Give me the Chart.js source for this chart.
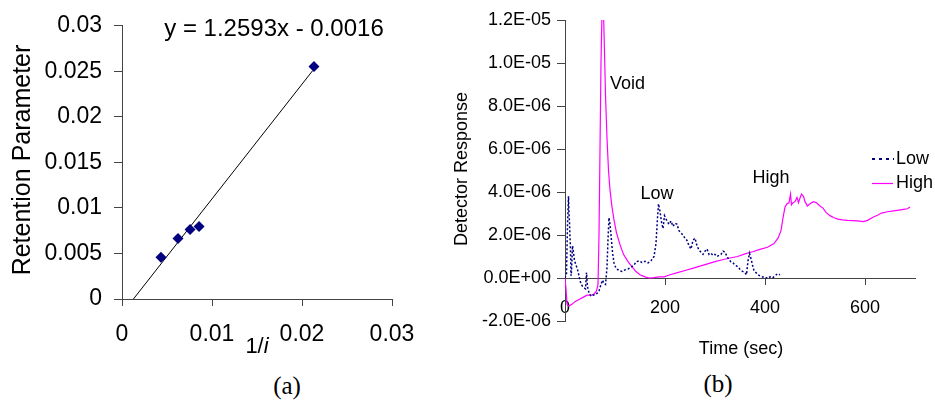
<!DOCTYPE html>
<html>
<head>
<meta charset="utf-8">
<script src="https://cdn.jsdelivr.net/npm/chart.js@4.4.1/dist/chart.umd.min.js"></script>
<style>
  body { margin: 0; background: #fff; }
  #wrap { position: relative; width: 935px; height: 400px; overflow: hidden; }
  #wrap canvas { position: absolute; top: 0; }
  .cap { position: absolute; font-family: "Liberation Serif", "Times New Roman", serif; font-size: 25px; transform: translate(-50%, -50%); }
</style>
</head>
<body>
<div id="wrap">
  <canvas id="retention" width="450" height="370" style="left:0"></canvas>
  <canvas id="detector" width="485" height="370" style="left:450px"></canvas>
  <div class="cap" style="left:287px;top:386px">(a)</div>
  <div class="cap" style="left:718px;top:384px">(b)</div>
</div>
<script>
// (a) retention parameter vs 1/i
const invI = [0.00433, 0.00622, 0.00756, 0.00856, 0.02133];
const retention = [0.00458, 0.00665, 0.00764, 0.00796, 0.02553];
const trendX = [0.00127, 0.0212];
const trendY = [0, 0.0251];
const xTicksA = [0, 0.01, 0.02, 0.03];
const yTicksA = [0, 0.005, 0.01, 0.015, 0.02, 0.025, 0.03];

// (b) detector response, values in units of 1E-06
const lowTime = [0, 3, 5, 7, 8, 9, 10, 11, 12, 13, 15, 17, 19, 22, 25, 28, 31, 34, 38, 41, 43, 45, 48, 52, 56, 60, 64, 68, 72, 75, 78, 81, 84, 86, 88, 90, 92, 95, 98, 102, 108, 114, 120, 126, 132, 138, 142, 148, 154, 160, 166, 172, 178, 182, 185, 187, 190, 193, 196, 199, 203, 208, 212, 216, 220, 224, 228, 232, 236, 240, 244, 248, 252, 256, 260, 264, 268, 272, 276, 280, 284, 288, 292, 296, 300, 304, 308, 312, 316, 320, 324, 328, 332, 336, 340, 344, 348, 352, 356, 360, 363, 366, 369, 372, 375, 378, 382, 386, 390, 395, 400, 405, 410, 415, 420, 425, 430];
const lowSignal = [0, 0.2, 2.5, 3.8, 3.0, 2.6, 1.9, 1.3, 0.1, 0.3, 1.5, 1.2, 0.8, 0.6, 0.4, 0.1, -0.2, -0.35, -0.45, -0.5, 0.25, -0.4, -0.7, -0.85, -0.8, -0.78, -0.72, -0.6, -0.3, -0.1, -0.25, -0.3, 0.5, 1.8, 2.8, 2.5, 2.0, 1.2, 0.7, 0.45, 0.35, 0.3, 0.38, 0.42, 0.5, 0.6, 0.75, 0.8, 0.72, 0.78, 0.7, 0.8, 1.0, 1.6, 2.8, 3.45, 3.1, 2.6, 2.3, 2.9, 2.7, 2.5, 2.65, 2.4, 2.55, 2.5, 2.2, 2.1, 2.0, 1.85, 1.75, 1.5, 1.35, 1.75, 1.85, 1.5, 1.3, 1.2, 1.1, 1.25, 1.35, 1.1, 1.15, 1.05, 1.1, 1.0, 1.05, 1.1, 1.25, 1.2, 1.0, 0.85, 0.75, 0.7, 0.6, 0.55, 0.45, 0.35, 0.3, 0.25, 0.15, 0.8, 1.15, 0.9, 0.6, 0.35, 0.25, 0.15, 0.1, 0.05, 0.05, -0.02, 0.05, 0.0, 0.1, 0.2, 0.15];
const highTime = [0, 2, 4, 6, 12, 20, 28, 36, 44, 52, 58, 63, 66, 68, 70, 72, 74, 77, 79, 81, 84, 87, 90, 94, 98, 103, 110, 117, 125, 133, 142, 150, 160, 168, 178, 188, 198, 210, 225, 240, 255, 270, 285, 300, 315, 330, 345, 360, 375, 390, 405, 418, 426, 432, 436, 440, 444, 448, 451, 453, 456, 460, 464, 467, 470, 473, 477, 480, 485, 490, 497, 503, 510, 516, 522, 530, 538, 546, 555, 565, 575, 585, 597, 605, 617, 625, 633, 645, 657, 668, 677, 685, 690];
const highSignal = [0, -0.5, -1.2, -1.3, -1.25, -1.1, -1.0, -0.9, -0.8, -0.8, -0.75, -0.6, -0.3, 2.0, 6.0, 10.0, 12.4, 12.4, 10.5, 8.5, 6.5, 5.0, 4.1, 3.3, 2.7, 2.1, 1.55, 1.1, 0.8, 0.55, 0.3, 0.15, 0.05, 0.0, 0.02, 0.05, 0.05, 0.15, 0.25, 0.35, 0.45, 0.55, 0.66, 0.76, 0.85, 0.93, 1.0, 1.12, 1.22, 1.33, 1.43, 1.6, 1.85, 2.2, 2.8, 3.3, 3.45, 3.5, 3.9, 3.4, 3.5, 3.55, 3.75, 3.5, 3.72, 3.9, 3.8, 3.55, 3.35, 3.45, 3.55, 3.5, 3.35, 3.25, 3.05, 2.9, 2.8, 2.74, 2.7, 2.68, 2.67, 2.66, 2.62, 2.68, 2.84, 2.92, 3.02, 3.08, 3.12, 3.16, 3.19, 3.22, 3.3];
const xTicksB = [0, 200, 400, 600];
const yTicksB = [-2, 0, 2, 4, 6, 8, 10, 12];
const yLabelsB = ["-2.0E-06", "0.0E+00", "2.0E-06", "4.0E-06", "6.0E-06", "8.0E-06", "1.0E-05", "1.2E-05"];
const notesB = [
  { text: "Void", x: 90, y: 9.0, align: "left" },
  { text: "Low", x: 184, y: 3.9, align: "center" },
  { text: "High", x: 412, y: 4.65, align: "center" }
];

const FONT = "'Liberation Sans', Arial, sans-serif";
const AXIS = "#444";
const NAVY = "#000080";
const PINK = "#ff00ff";
Chart.defaults.font.family = FONT;
Chart.defaults.color = "#000";

function axisStyle(size, tickLen, pad, labels) {
  return {
    grid: { drawOnChartArea: false, drawTicks: true, tickLength: tickLen, color: AXIS, lineWidth: 1 },
    border: { color: AXIS, width: 1 },
    ticks: { font: { size: size }, padding: pad, color: "#000", callback: labels }
  };
}

// texts for chart (a)
const retentionText = {
  id: "retentionText",
  afterDraw(chart) {
    const c = chart.ctx;
    c.save();
    c.fillStyle = "#000";
    c.textBaseline = "middle";
    c.textAlign = "center";
    c.font = "24px " + FONT;
    c.fillText("y = 1.2593x - 0.0016", 274, 29);
    // x title 1/i
    c.font = "22px " + FONT;
    const w1 = c.measureText("1/").width;
    c.font = "italic 22px " + FONT;
    const w2 = c.measureText("i").width;
    const x0 = 257 - (w1 + w2) / 2;
    c.textAlign = "left";
    c.font = "22px " + FONT;
    c.fillText("1/", x0, 347);
    c.font = "italic 22px " + FONT;
    c.fillText("i", x0 + w1, 347);
    // y title
    c.translate(23, 160);
    c.rotate(-Math.PI / 2);
    c.textAlign = "center";
    c.font = "25px " + FONT;
    c.fillText("Retention Parameter", 0, 0);
    c.restore();
  }
};

new Chart(document.getElementById("retention"), {
  type: "scatter",
  data: {
    datasets: [
      {
        data: invI.map((v, i) => ({ x: v, y: retention[i] })),
        pointStyle: "rectRot", pointRadius: 5.5, pointHoverRadius: 5.5,
        backgroundColor: NAVY, borderColor: NAVY, borderWidth: 0
      },
      {
        type: "line",
        data: trendX.map((v, i) => ({ x: v, y: trendY[i] })),
        borderColor: "#000", borderWidth: 1, pointRadius: 0, fill: false
      }
    ]
  },
  options: {
    responsive: false, animation: false,
    layout: { padding: { left: 0, right: 58, top: 24, bottom: 11 } },
    plugins: { legend: { display: false }, tooltip: { enabled: false } },
    scales: {
      x: Object.assign(axisStyle(23, 7, 15, v => String(v)), {
        type: "linear", min: 0, max: 0.03,
        afterBuildTicks: s => { s.ticks = xTicksA.map(v => ({ value: v })); },
        afterFit: s => { s.height = 60; }
      }),
      y: Object.assign(axisStyle(23, 8, 12, v => String(v)), {
        type: "linear", min: 0, max: 0.03,
        afterBuildTicks: s => { s.ticks = yTicksA.map(v => ({ value: v })); },
        afterFit: s => { s.width = 122; }
      })
    }
  },
  plugins: [retentionText]
});

// texts for chart (b)
const detectorText = {
  id: "detectorText",
  afterDraw(chart) {
    const c = chart.ctx;
    const sx = chart.scales.x, sy = chart.scales.y;
    c.save();
    c.fillStyle = "#000";
    c.textBaseline = "middle";
    c.font = "18px " + FONT;
    notesB.forEach(n => {
      c.textAlign = n.align;
      c.fillText(n.text, sx.getPixelForValue(n.x), sy.getPixelForValue(n.y));
    });
    // legend
    c.textAlign = "left";
    c.strokeStyle = NAVY;
    c.lineWidth = 2;
    c.setLineDash([3, 4]);
    c.beginPath(); c.moveTo(422, 159); c.lineTo(444, 159); c.stroke();
    c.setLineDash([]);
    c.strokeStyle = PINK;
    c.lineWidth = 1.2;
    c.beginPath(); c.moveTo(422, 183.5); c.lineTo(443, 183.5); c.stroke();
    c.fillText("Low", 446, 159);
    c.fillText("High", 446, 183);
    // axis titles
    c.textAlign = "center";
    c.fillText("Time (sec)", 291, 349);
    c.translate(12, 169);
    c.rotate(-Math.PI / 2);
    c.fillText("Detector Response", 0, 0);
    c.restore();
  }
};

new Chart(document.getElementById("detector"), {
  type: "scatter",
  data: {
    datasets: [
      {
        label: "Low",
        data: lowTime.map((t, i) => ({ x: t, y: lowSignal[i] })),
        showLine: true, borderColor: NAVY, borderWidth: 1.5, borderDash: [2, 2],
        pointRadius: 0, fill: false
      },
      {
        label: "High",
        data: highTime.map((t, i) => ({ x: t, y: highSignal[i] })),
        showLine: true, borderColor: PINK, borderWidth: 1.2,
        pointRadius: 0, fill: false
      }
    ]
  },
  options: {
    responsive: false, animation: false,
    layout: { padding: { left: 0, right: 20, top: 20, bottom: 49 } },
    plugins: { legend: { display: false }, tooltip: { enabled: false } },
    scales: {
      x: Object.assign(axisStyle(18, 6, 13, v => String(v)), {
        type: "linear", min: 0, max: 700, position: { y: 0 },
        afterBuildTicks: s => { s.ticks = xTicksB.map(v => ({ value: v })); },
        afterFit: s => { s.height = 0; }
      }),
      y: Object.assign(axisStyle(18, 8, 6, (v, i) => yLabelsB[i]), {
        type: "linear", min: -2, max: 12,
        afterBuildTicks: s => { s.ticks = yTicksB.map(v => ({ value: v })); },
        afterFit: s => { s.width = 115; }
      })
    }
  },
  plugins: [detectorText]
});
</script>
</body>
</html>
